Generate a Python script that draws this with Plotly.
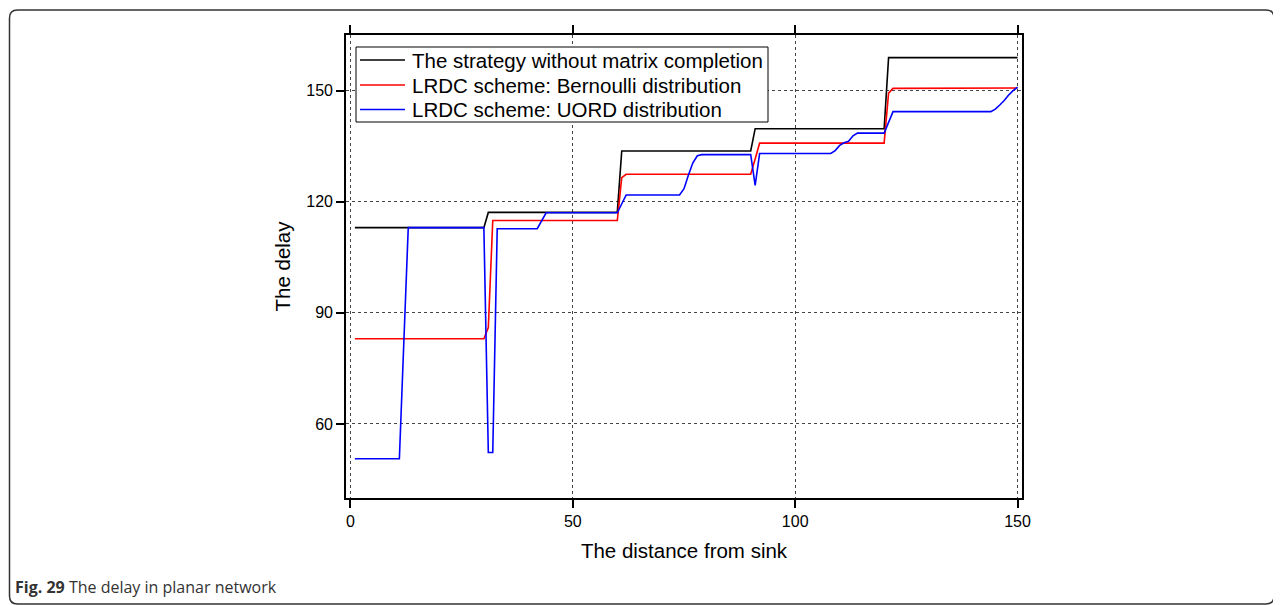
import plotly.graph_objects as go

# ---- data ----
black_x = [1, 30, 31, 60, 61, 90, 91, 120, 121, 150]
black_y = [113, 113, 117.1, 117.1, 133.7, 133.7, 139.7, 139.7, 158.9, 158.9]

red_x = [1, 30, 31, 32, 60, 61, 62, 90, 91, 92, 120, 121, 122, 150]
red_y = [83, 83, 86, 114.9, 114.9, 126.5, 127.4, 127.4, 131.5, 135.8, 135.8, 149.3, 150.6, 150.7]

blue_x = [1, 11, 12, 13, 30, 31, 32, 33, 42, 43, 44, 60, 61, 62, 74, 75, 76, 77, 78, 79,
          90, 91, 92, 108, 109, 110, 111, 112, 113, 114, 120, 121, 122,
          144, 145, 146, 147, 148, 149, 150]
blue_y = [50.6, 50.6, 82, 113, 113, 52.3, 52.3, 112.7, 112.7, 114.8, 117, 117, 119.5, 121.8,
          121.8, 123.5, 127.2, 130.5, 132.4, 132.7, 132.7, 124.4, 133, 133, 133.8, 135.2,
          135.9, 136.3, 137.8, 138.5, 138.5, 141.4, 144.3, 144.3, 145.0, 146.1, 147.3,
          148.8, 150.0, 150.9]

series_names = ["The strategy without matrix completion",
                "LRDC scheme: Bernoulli distribution",
                "LRDC scheme: UORD distribution"]
series_colors = ["#000000", "#ff0000", "#0000ff"]
x_ticks = [0, 50, 100, 150]
y_ticks = [60, 90, 120, 150]

# ---- layout constants (screen pixels; page body has an 8px margin) ----
OFF = 8
SW, SH = 1281, 605
L, R, T, B = 346, 1022, 35, 498
pw, ph = R - L, B - T

def px_x(p):
    return (p - L) / pw

def px_y(p):
    return (B - p) / ph

FONT = "Liberation Sans, Arial, Helvetica, sans-serif"

fig = go.Figure()
for xs, ys, name, col in zip([black_x, red_x, blue_x], [black_y, red_y, blue_y],
                             series_names, series_colors):
    fig.add_trace(go.Scatter(x=xs, y=ys, mode="lines", name=name,
                             line=dict(color=col, width=1.6), showlegend=False))

fig.update_layout(
    width=SW - OFF, height=SH - OFF,
    margin=dict(l=L - OFF, r=SW - R, t=T - OFF, b=SH - B, pad=0),
    paper_bgcolor="white", plot_bgcolor="white",
    font=dict(family=FONT, color="black"),
    showlegend=False,
    xaxis=dict(range=[-1, 151], tickvals=x_ticks, ticks="outside", ticklen=8,
               tickwidth=1.5, tickcolor="black", showline=True, linecolor="black",
               linewidth=1.6, mirror="ticks", showgrid=True, gridcolor="#444",
               griddash="3px,3px", gridwidth=1, zeroline=False,
               tickfont=dict(size=16, family=FONT, color="black"),
               title=dict(text="The distance from sink", standoff=15,
                          font=dict(size=20.5, family=FONT, color="black"))),
    yaxis=dict(range=[40, 165], tickvals=y_ticks, ticks="outside", ticklen=8,
               tickwidth=1.5, tickcolor="black", showline=True, linecolor="black",
               linewidth=1.6, mirror=True, showgrid=True, gridcolor="#444",
               griddash="3px,3px", gridwidth=1, zeroline=False,
               tickfont=dict(size=16, family=FONT, color="black"),
               title=dict(text="The delay", standoff=10,
                          font=dict(size=20.5, family=FONT, color="black"))),
)

# ---- legend box (drawn to match the compact row spacing of the original) ----
fig.add_shape(type="rect", xref="paper", yref="paper",
              x0=px_x(356), x1=px_x(768), y0=px_y(122), y1=px_y(47),
              fillcolor="white", line=dict(color="black", width=1), layer="above")
row_y = [60, 85, 109.5]
for name, col, ry_ in zip(series_names, series_colors, row_y):
    fig.add_shape(type="line", xref="paper", yref="paper",
                  x0=px_x(360), x1=px_x(405), y0=px_y(ry_), y1=px_y(ry_),
                  line=dict(color=col, width=1.6), layer="above")
    fig.add_annotation(text=name, xref="paper", yref="paper",
                       x=px_x(410), y=px_y(ry_ + 0.5), xanchor="left", yanchor="middle",
                       showarrow=False,
                       font=dict(size=20.5, family=FONT, color="black"))

# ---- rounded outer frame of the figure panel ----
x0, x1 = px_x(9.5), px_x(1274)
y0, y1 = px_y(604), px_y(10)
rx, ry = 8 / pw, 8 / ph
path = (f"M {x0+rx},{y1} L {x1-rx},{y1} Q {x1},{y1} {x1},{y1-ry} "
        f"L {x1},{y0+ry} Q {x1},{y0} {x1-rx},{y0} L {x0+rx},{y0} "
        f"Q {x0},{y0} {x0},{y0+ry} L {x0},{y1-ry} Q {x0},{y1} {x0+rx},{y1} Z")
fig.add_shape(type="path", path=path, xref="paper", yref="paper",
              line=dict(color="#333333", width=1.5), layer="above")

fig.add_annotation(text="<b>Fig. 29</b> The delay in planar network",
                   xref="paper", yref="paper", x=px_x(13), y=px_y(587),
                   xanchor="left", yanchor="middle", showarrow=False,
                   font=dict(family="Open Sans, sans-serif", size=16, color="#333333"))

fig.write_html("out.html")
